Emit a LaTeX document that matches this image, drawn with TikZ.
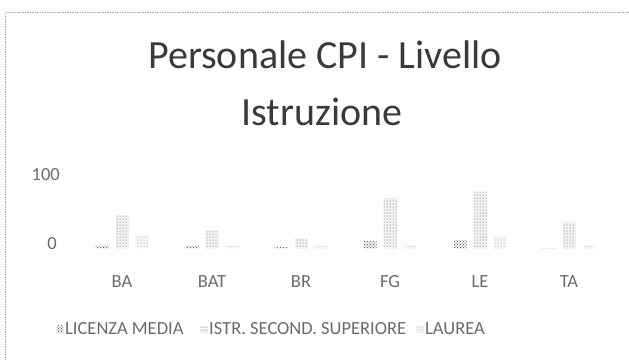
\documentclass[tikz,border=0pt]{standalone}
\usepackage{fontspec}
\setmainfont{Carlito}
\usetikzlibrary{patterns}
\definecolor{ink}{HTML}{3A3A3A}
\begin{document}
\begin{tikzpicture}[x=1pt,y=-1pt,
  frame/.style={draw=gray!70, line width=0.6pt, dash pattern=on 1.5pt off 1pt},
  ttl/.style={font=\fontsize{40}{40}\selectfont, text=ink, inner sep=0pt, anchor=base},
  lbl/.style={font=\fontsize{18.5}{18.5}\selectfont, text=ink!75, inner sep=0pt},
  barlic/.style={preaction={fill=gray!12}, pattern=crosshatch dots, pattern color=black!70},
  baristr/.style={preaction={fill=gray!10}, pattern=dots, pattern color=black!65},
  barlau/.style={preaction={fill=gray!6}, pattern=dots, pattern color=black!50},
]
\useasboundingbox (0,0) rectangle (629,360);
% chart frame (top and left edges)
\draw[frame] (5,360) -- (5,12) -- (629,12);

% title
\node[ttl] (t1) at (325,68) {Personale CPI - Livello};
\node[ttl] (t2) at (322,125) {Istruzione};

% value axis labels
\node[lbl, anchor=base east] (v100) at (60,180) {100};
\node[lbl, anchor=base east] (v0) at (57,249) {0};

% bars: name / centre / licenza / istr. sec. sup. / laurea
\foreach \nm/\cx/\a/\b/\c in {BA/122/3/43/17, BAT/212/3/23/2, BR/301/1/13/2,
                              FG/390/9/65/3, LE/480/10/74/14, TA/569/0/33/3} {
  \fill[barlic]  (\cx-26.5,248) rectangle (\cx-13.5,248-0.76*\a);
  \fill[baristr] (\cx-6.5,248)  rectangle (\cx+6.5,248-0.76*\b);
  \fill[barlau]  (\cx+13.5,248) rectangle (\cx+26.5,248-0.76*\c);
  \node[lbl, anchor=base] (c\nm) at (\cx,287) {\nm};
}

% legend
\fill[barlic]  (56.5,325.5) rectangle (63.5,332.5);
\node[lbl, anchor=west] (l1) at (65,329) {LICENZA MEDIA};
\fill[baristr] (200.5,325.5) rectangle (207.5,332.5);
\node[lbl, anchor=west] (l2) at (209,329) {ISTR. SECOND. SUPERIORE};
\fill[barlau]  (416.5,325.5) rectangle (423.5,332.5);
\node[lbl, anchor=west] (l3) at (425,329) {LAUREA};
\end{tikzpicture}
\end{document}
